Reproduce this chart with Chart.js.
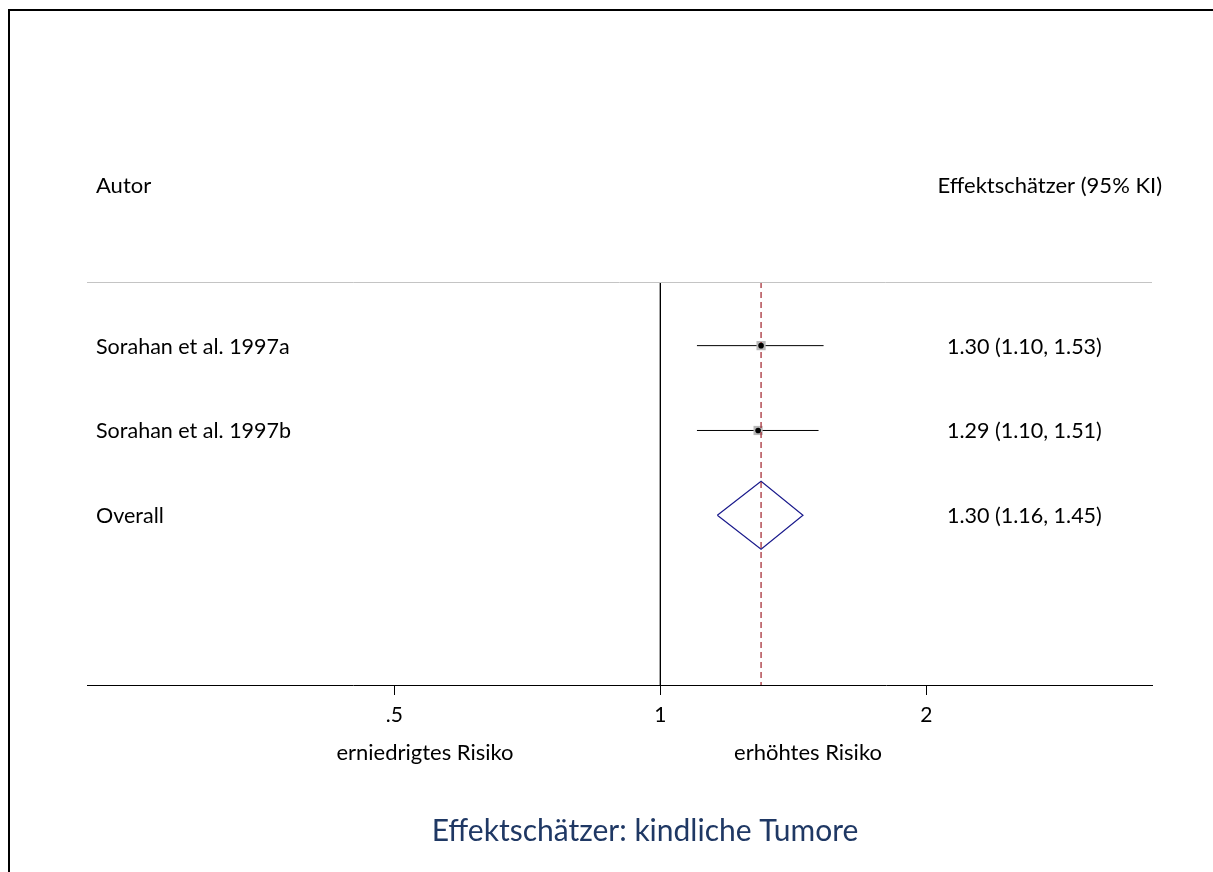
<!DOCTYPE html>
<html>
<head>
<meta charset="utf-8">
<script src="https://cdn.jsdelivr.net/npm/chart.js@4/dist/chart.umd.min.js"></script>
<style>
  html, body { margin: 0; padding: 0; background: #fff; }
  #wrap { width: 1213px; height: 872px; position: relative; }
</style>
</head>
<body>
<div id="wrap"><canvas id="myChart" width="1213" height="872"></canvas></div>
<script>
// studies
let studies = ['Sorahan et al. 1997a', 'Sorahan et al. 1997b'];
let est = [1.30, 1.29];
let lower = [1.10, 1.10];
let upper = [1.53, 1.51];

// pooled
let overallLabel = 'Overall';
let overallEst = 1.30;
let overallLower = 1.16;
let overallUpper = 1.45;

let xTicks = [0.5, 1, 2];
let xMin = 0.2245, xMax = 3.6;
let yMin = 0.25, yMax = 5;

let FONT = 'Lato, "Open Sans", sans-serif';

function fmt(v){ return v.toFixed(2); }

let datasets = [];

// CI lines
studies.forEach(function(s, i){
  datasets.push({
    type: 'line',
    data: [{x: lower[i], y: i + 1}, {x: upper[i], y: i + 1}],
    borderColor: '#000', borderWidth: 1, pointRadius: 0, showLine: true, order: 3
  });
});

// weight boxes
datasets.push({
  type: 'scatter',
  data: est.map(function(v, i){ return {x: v, y: i + 1}; }),
  pointStyle: 'rect', pointRadius: 6.5, backgroundColor: '#b8b8b8', borderWidth: 0, order: 2
});
// point estimates
datasets.push({
  type: 'scatter',
  data: est.map(function(v, i){ return {x: v, y: i + 1}; }),
  pointStyle: 'circle', pointRadius: 2.8, backgroundColor: '#000', borderWidth: 0, order: 0
});

// overall diamond
let oRow = studies.length + 1;
let dh = 0.4;
datasets.push({
  type: 'line',
  data: [
    {x: overallLower, y: oRow}, {x: overallEst, y: oRow - dh},
    {x: overallUpper, y: oRow}, {x: overallEst, y: oRow + dh},
    {x: overallLower, y: oRow}
  ],
  borderColor: '#1a1a8c', borderWidth: 1.2, pointRadius: 0, showLine: true, tension: 0, order: 4
});

// null line
datasets.push({
  type: 'line',
  data: [{x: 1, y: yMin}, {x: 1, y: yMax}],
  borderColor: '#000', borderWidth: 1, pointRadius: 0, showLine: true, order: 5
});
// overall dashed line
datasets.push({
  type: 'line',
  data: [{x: overallEst, y: yMin}, {x: overallEst, y: yMax}],
  borderColor: '#a0202a', borderWidth: 1.2, borderDash: [6, 4], pointRadius: 0, showLine: true, order: 1
});

let textPlugin = {
  id: 'forestText',
  beforeDraw: function(chart){
    let ctx = chart.ctx;
    ctx.save();
    // frame
    ctx.strokeStyle = '#000';
    ctx.lineWidth = 2;
    ctx.beginPath();
    ctx.moveTo(9, 872); ctx.lineTo(9, 10); ctx.lineTo(1213, 10);
    ctx.stroke();
    ctx.restore();
  },
  afterDraw: function(chart){
    let ctx = chart.ctx;
    let ca = chart.chartArea;
    let ys = chart.scales.y;
    ctx.save();
    // top grey line
    ctx.strokeStyle = '#c4c4c4';
    ctx.lineWidth = 1;
    ctx.beginPath();
    ctx.moveTo(ca.left, ca.top + 0.5); ctx.lineTo(ca.right, ca.top + 0.5);
    ctx.stroke();

    ctx.fillStyle = '#000';
    ctx.font = '22px ' + FONT;
    ctx.textBaseline = 'middle';
    ctx.textAlign = 'left';
    ctx.fillText('Autor', 96, 186);
    ctx.textAlign = 'right';
    ctx.fillText('Effektschätzer (95% KI)', 1162, 186);

    ctx.textAlign = 'left';
    ctx.font = '21.5px ' + FONT;
    studies.forEach(function(s, i){
      let y = ys.getPixelForValue(i + 1) + 1;
      ctx.fillText(s, 96, y);
      ctx.fillText(fmt(est[i]) + ' (' + fmt(lower[i]) + ', ' + fmt(upper[i]) + ')', 947, y);
    });
    let yo = ys.getPixelForValue(oRow) + 1;
    ctx.fillText(overallLabel, 96, yo);
    ctx.fillText(fmt(overallEst) + ' (' + fmt(overallLower) + ', ' + fmt(overallUpper) + ')', 947, yo);

    // axis sub-titles
    ctx.font = '22px ' + FONT;
    ctx.textAlign = 'center';
    ctx.fillText('erniedrigtes Risiko', 425, 753);
    ctx.fillText('erhöhtes Risiko', 808, 753);

    // title
    ctx.fillStyle = '#1f3864';
    ctx.font = '30px ' + FONT;
    ctx.fillText('Effektschätzer: kindliche Tumore', 645, 831);
    ctx.restore();
  }
};

let config = {
  type: 'scatter',
  data: { datasets: datasets },
  options: {
    responsive: false,
    animation: false,
    events: [],
    layout: { padding: { left: 87, right: 61, top: 282, bottom: 147 } },
    plugins: { legend: { display: false }, tooltip: { enabled: false } },
    scales: {
      x: {
        type: 'logarithmic',
        min: xMin, max: xMax,
        afterBuildTicks: function(s){ s.ticks = xTicks.map(function(v){ return {value: v}; }); },
        afterFit: function(s){ s.height = 40; },
        ticks: {
          color: '#000',
          font: { family: FONT, size: 21 },
          padding: 8,
          autoSkip: false, maxRotation: 0,
          callback: function(v){ return v === 0.5 ? '.5' : String(v); }
        },
        grid: { drawOnChartArea: false, drawTicks: true, tickLength: 10, color: '#000' },
        border: { display: true, color: '#000', width: 1 }
      },
      y: {
        type: 'linear', display: false, reverse: true,
        min: yMin, max: yMax
      }
    }
  },
  plugins: [textPlugin]
};

let myChart = new Chart(document.getElementById('myChart'), config);
</script>
</body>
</html>
